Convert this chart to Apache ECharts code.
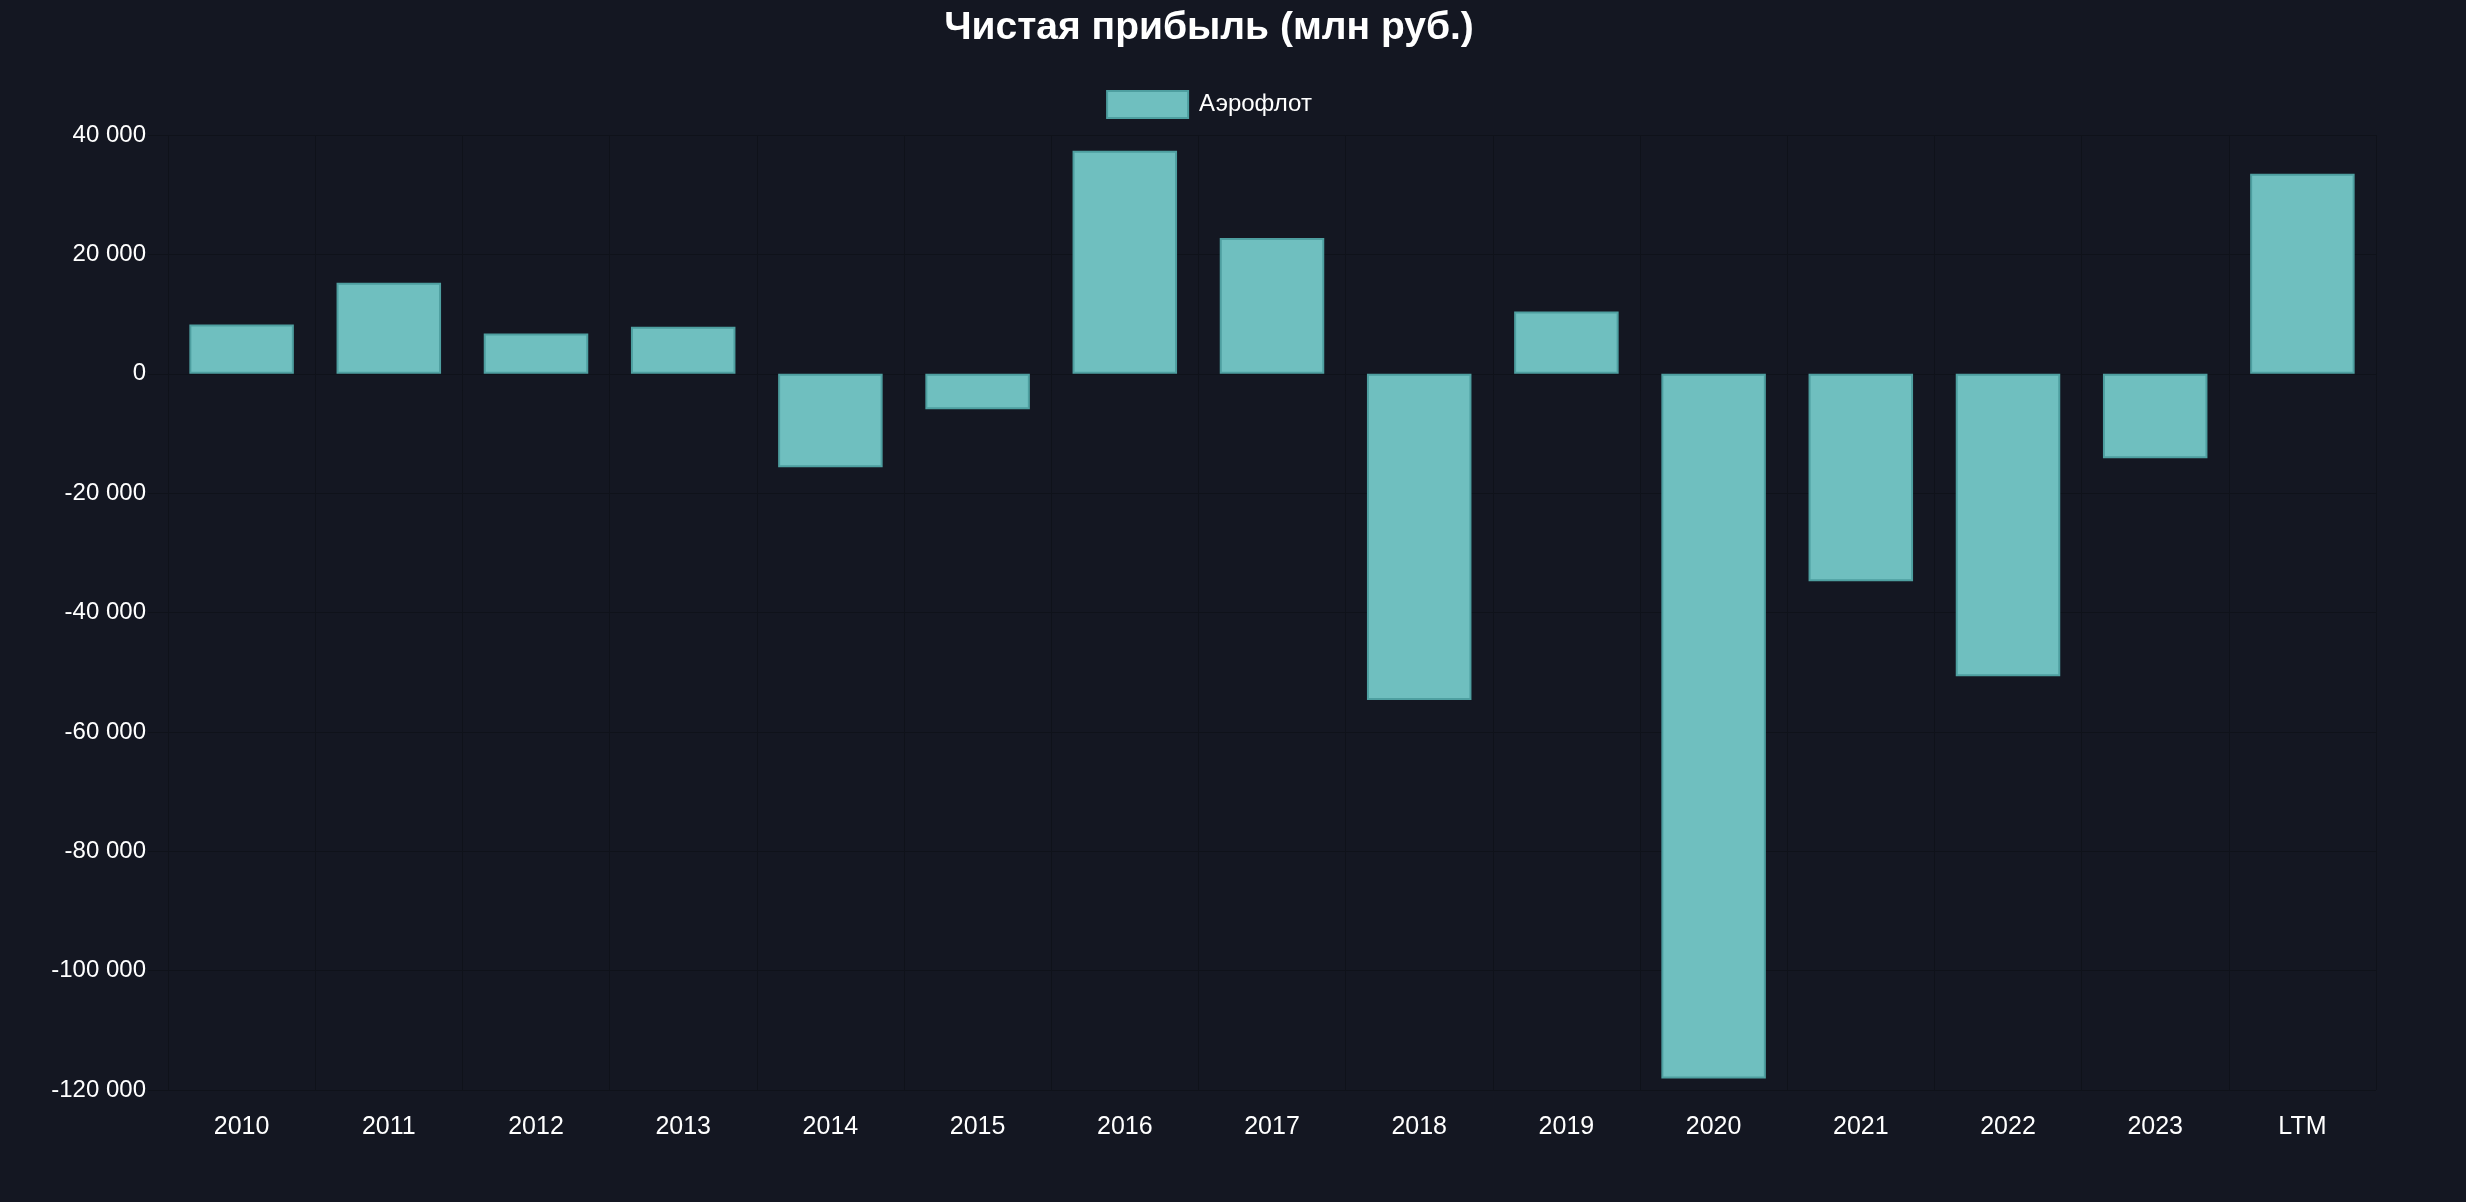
<!DOCTYPE html>
<html>
<head>
    <meta charset="utf-8" />
    <title>Чистая прибыль</title>
    <script type="text/javascript" src="https://cdn.jsdelivr.net/npm/echarts@6/dist/echarts.min.js"></script>
    <style>
        html, body {
            margin: 0;
            padding: 0;
            background-color: #141722;
        }
        #main {
            width: 2418px;
            height: 1202px;
        }
    </style>
</head>
<body>
    <div id="main"></div>
    <script type="text/javascript">
        // данные
        var years = ["2010", "2011", "2012", "2013", "2014", "2015", "2016", "2017", "2018", "2019", "2020", "2021", "2022", "2023", "LTM"];
        var profit = [8260, 15250, 6760, 7880, -15650, -5930, 37380, 22730, -54640, 10440, -118060, -34760, -50680, -14140, 33520];
        var seriesName = "Аэрофлот";
        var titleText = "Чистая прибыль (млн руб.)";

        var gridColor = "#0f121a";
        var font = "'Liberation Sans', Arial, Helvetica, sans-serif";

        function fmt(v) {
            return String(v).replace(/\B(?=(\d{3})+(?!\d))/g, " ");
        }

        var myChart = echarts.init(document.getElementById("main"));
        var option = {
            backgroundColor: "#141722",
            animation: false,
            title: {
                text: titleText,
                left: "center",
                top: 4,
                textStyle: {
                    color: "#ffffff",
                    fontSize: 39,
                    fontWeight: "bold",
                    fontFamily: font
                }
            },
            legend: {
                top: 85,
                left: "center",
                icon: "rect",
                itemWidth: 81,
                itemHeight: 27,
                textStyle: {
                    color: "#ffffff",
                    fontSize: 24,
                    fontFamily: font,
                    padding: [0, 0, 0, 6]
                },
                data: [seriesName]
            },
            grid: {
                left: 168,
                right: 42,
                top: 135,
                bottom: 112
            },
            xAxis: {
                type: "category",
                data: years,
                axisLine: { show: false },
                axisTick: {
                    show: true,
                    length: 17,
                    lineStyle: { color: gridColor }
                },
                splitLine: {
                    show: true,
                    lineStyle: { color: gridColor, width: 1 }
                },
                axisLabel: {
                    color: "#ffffff",
                    fontSize: 25,
                    fontFamily: font,
                    margin: 25
                }
            },
            yAxis: {
                type: "value",
                min: -120000,
                max: 40000,
                interval: 20000,
                axisLine: { show: false },
                axisTick: {
                    show: true,
                    length: 20,
                    lineStyle: { color: gridColor }
                },
                splitLine: {
                    show: true,
                    lineStyle: { color: gridColor, width: 1 }
                },
                axisLabel: {
                    color: "#ffffff",
                    fontSize: 24,
                    fontFamily: font,
                    margin: 22,
                    formatter: function (v) { return fmt(v); }
                }
            },
            series: [
                {
                    name: seriesName,
                    type: "bar",
                    data: profit,
                    barWidth: "71%",
                    itemStyle: {
                        color: "#6fbfbf",
                        borderColor: "#4e9fa0",
                        borderWidth: 2
                    }
                }
            ]
        };
        option && myChart.setOption(option);
    </script>
</body>
</html>
